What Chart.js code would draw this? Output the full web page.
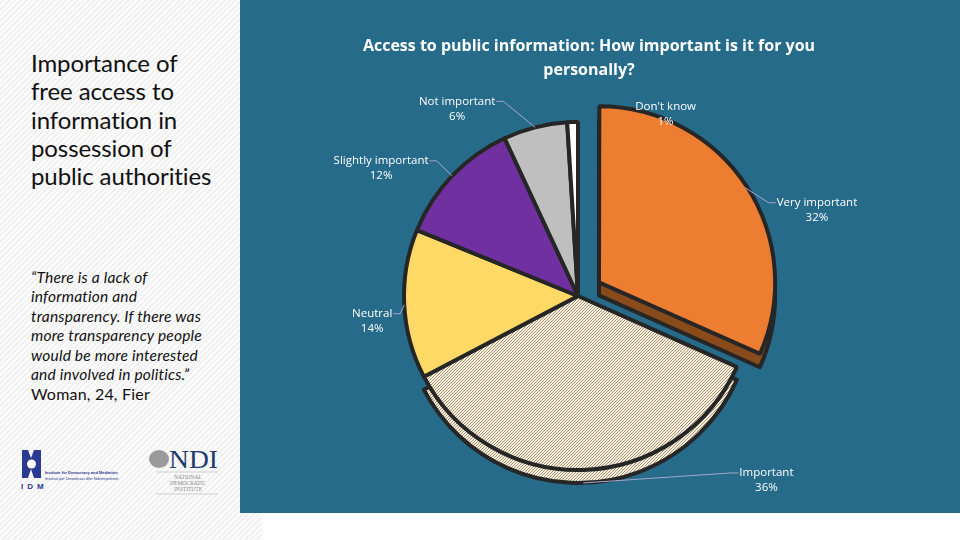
<!DOCTYPE html>
<html><head><meta charset="utf-8">
<script src="https://cdn.jsdelivr.net/npm/chart.js@4.4.1/dist/chart.umd.min.js"></script>
<style>
html,body{margin:0;padding:0;width:960px;height:540px;overflow:hidden;background:#ffffff;}
#left{position:absolute;left:0;top:0;width:262px;height:540px;background:repeating-linear-gradient(135deg,#fcfcfc 0 2px,#f1f1f1 2px 4px);}
#heading{position:absolute;left:31px;top:49px;font-family:Lato,"Open Sans",sans-serif;font-size:24px;line-height:28.3px;color:#111;letter-spacing:-0.1px;}
#quote{position:absolute;left:31px;top:268px;font-family:Lato,"Open Sans",sans-serif;font-style:italic;font-size:15.5px;line-height:19.4px;color:#111;letter-spacing:0.2px;}
#who{position:absolute;left:31px;top:384px;font-family:Lato,"Open Sans",sans-serif;font-size:16px;line-height:20px;color:#111;letter-spacing:0.2px;}
#panel{position:absolute;left:240px;top:0;width:720px;height:513px;background:#266B8A;}
#wrap{position:absolute;left:0;top:0;width:720px;height:513px;}
#title{position:absolute;left:0;top:33px;width:698px;text-align:center;font-family:"Open Sans",Lato,sans-serif;font-weight:700;font-size:16px;line-height:24px;color:#ffffff;}
</style></head>
<body>
<div id="left">
  <div id="heading">Importance of<br>free access to<br>information in<br>possession of<br>public authorities</div>
  <div id="quote">“There is a lack of<br>information and<br>transparency. If there was<br>more transparency people<br>would be more interested<br>and involved in politics.”</div>
  <div id="who">Woman, 24, Fier</div>
  <svg style="position:absolute;left:20px;top:448px" width="100" height="44">
    <path d="M2 2 L8 2 L11 10 L14 2 L21 2 L21 30 L14 30 L11 21 L8 30 L2 30 Z" fill="#2B3990"/>
    <circle cx="11.5" cy="16" r="4.5" fill="#ffffff"/>
    <text x="1" y="41" font-family="Liberation Sans" font-size="8" font-weight="bold" fill="#2B3990" letter-spacing="4">IDM</text>
    <text x="25" y="26" font-family="Liberation Sans" font-size="4" font-weight="bold" fill="#2B3990">Institute for Democracy and Mediation</text>
    <text x="25" y="32" font-family="Liberation Sans" font-size="4" fill="#2B3990">Instituti për Demokraci dhe Ndërmjetësim</text>
  </svg>
  <svg style="position:absolute;left:146px;top:446px" width="76" height="52">
    <ellipse cx="13" cy="13" rx="10" ry="9" fill="#9a9a9a"/>
    <text x="23" y="22" font-family="Liberation Serif" font-size="25" fill="#1F3A6E" textLength="49" lengthAdjust="spacingAndGlyphs">NDI</text>
    <line x1="10" y1="26" x2="72" y2="26" stroke="#c8c8c8" stroke-width="0.8"/>
    <text x="42" y="33" text-anchor="middle" font-family="Liberation Serif" font-size="5.5" fill="#8a8a8a">NATIONAL</text>
    <text x="42" y="39" text-anchor="middle" font-family="Liberation Serif" font-size="5.5" fill="#8a8a8a">DEMOCRATIC</text>
    <text x="42" y="45" text-anchor="middle" font-family="Liberation Serif" font-size="5.5" fill="#8a8a8a">INSTITUTE</text>
    <line x1="10" y1="48" x2="72" y2="48" stroke="#c8c8c8" stroke-width="0.8"/>
  </svg>
</div>
<div id="panel">
  <div id="wrap"><canvas id="c" width="720" height="513"></canvas></div>
  <div id="title">Access to public information: How important is it for you<br>personally?</div>
</div>
<script>
// ---- data ----
const categories = ['Very important', 'Important', 'Neutral', 'Slightly important', 'Not important', "Don't know"];
const percentages = [32, 36, 14, 12, 6, 1];
const explode = [100, 0, 0, 0, 0, 0];
const showLeader = [true, true, true, true, true, false];
const labelShift = [[72, 15], [183, -10], [-32, 9], [-71, -15], [-78, -26], [93, -15]];

// ---- style ----
const DEPTH = 13;
const BORDER = '#262626';
const BW = 4;

function hatch() {
  const c = document.createElement('canvas');
  c.width = 3; c.height = 3;
  const g = c.getContext('2d');
  g.fillStyle = '#FBF0DA'; g.fillRect(0, 0, 3, 3);
  g.fillStyle = '#A29280';
  for (let x = 0; x < 3; x++) for (let y = 0; y < 3; y++) if ((x + y) % 3 === 2) g.fillRect(x, y, 1, 1);
  return g.createPattern(c, 'repeat');
}
const hp = hatch();
const sliceColors = ['#ED7D31', hp, '#FFD966', '#7030A0', '#BFBFBF', '#FFFFFF'];
const depthColors = ['#8A4B1B', hp, null, null, null, null];

const depthPlugin = {
  id: 'depth',
  beforeDatasetsDraw(chart) {
    const ctx = chart.ctx;
    const meta = chart.getDatasetMeta(0);
    meta.data.forEach((arc, i) => {
      if (!depthColors[i]) return;
      const p = arc.getProps(['x', 'y', 'startAngle', 'endAngle', 'outerRadius', 'circumference']);
      const off = (arc.options.offset || 0) / 4;
      const half = (p.startAngle + p.endAngle) / 2;
      const r = p.outerRadius + off * (1 - Math.sin(Math.min(Math.PI, p.circumference)));
      ctx.save();
      ctx.translate(Math.cos(half) * off, Math.sin(half) * off + DEPTH);
      ctx.beginPath();
      ctx.moveTo(p.x, p.y);
      ctx.arc(p.x, p.y, r, p.startAngle, p.endAngle);
      ctx.closePath();
      ctx.fillStyle = depthColors[i];
      ctx.fill();
      ctx.lineWidth = BW; ctx.strokeStyle = BORDER; ctx.lineJoin = 'round';
      ctx.stroke();
      ctx.restore();
    });
  }
};

const labelPlugin = {
  id: 'sliceLabels',
  afterDatasetsDraw(chart) {
    const ctx = chart.ctx;
    const meta = chart.getDatasetMeta(0);
    ctx.save();
    ctx.font = '11.5px "Open Sans", sans-serif';
    ctx.textAlign = 'center';
    ctx.textBaseline = 'middle';
    meta.data.forEach((arc, i) => {
      const p = arc.getProps(['x', 'y', 'startAngle', 'endAngle', 'outerRadius']);
      const off = (arc.options.offset || 0) / 4;
      const half = (p.startAngle + p.endAngle) / 2;
      const ax = p.x + Math.cos(half) * (off + p.outerRadius);
      const ay = p.y + Math.sin(half) * (off + p.outerRadius) + DEPTH * Math.max(0, Math.sin(half));
      const tx = ax + labelShift[i][0];
      const ty = ay + labelShift[i][1];
      const lines = [categories[i], percentages[i] + '%'];
      if (showLeader[i]) {
        const w = ctx.measureText(lines[0]).width;
        const side = tx > ax ? -1 : 1;
        const ex = tx + side * (w / 2 + 1);
        const elbow = ex + side * 7;
        ctx.beginPath();
        ctx.moveTo(ex, ty); ctx.lineTo(elbow, ty); ctx.lineTo(ax, ay);
        ctx.strokeStyle = '#A9A4CC'; ctx.lineWidth = 1;
        ctx.stroke();
      }
      ctx.fillStyle = '#FFFFFF';
      lines.forEach((s, k) => ctx.fillText(s, tx, ty + k * 15));
    });
    ctx.restore();
  }
};

new Chart(document.getElementById('c'), {
  type: 'pie',
  data: {
    labels: categories,
    datasets: [{
      data: percentages,
      backgroundColor: sliceColors,
      borderColor: BORDER,
      borderWidth: BW,
      offset: explode,
      hoverOffset: 0
    }]
  },
  options: {
    responsive: false,
    animation: false,
    radius: 174,
    layout: { padding: { left: 0, right: 44, top: 100, bottom: 21 } },
    plugins: { legend: { display: false }, tooltip: { enabled: false }, title: { display: false } }
  },
  plugins: [depthPlugin, labelPlugin]
});
</script>
</body></html>
